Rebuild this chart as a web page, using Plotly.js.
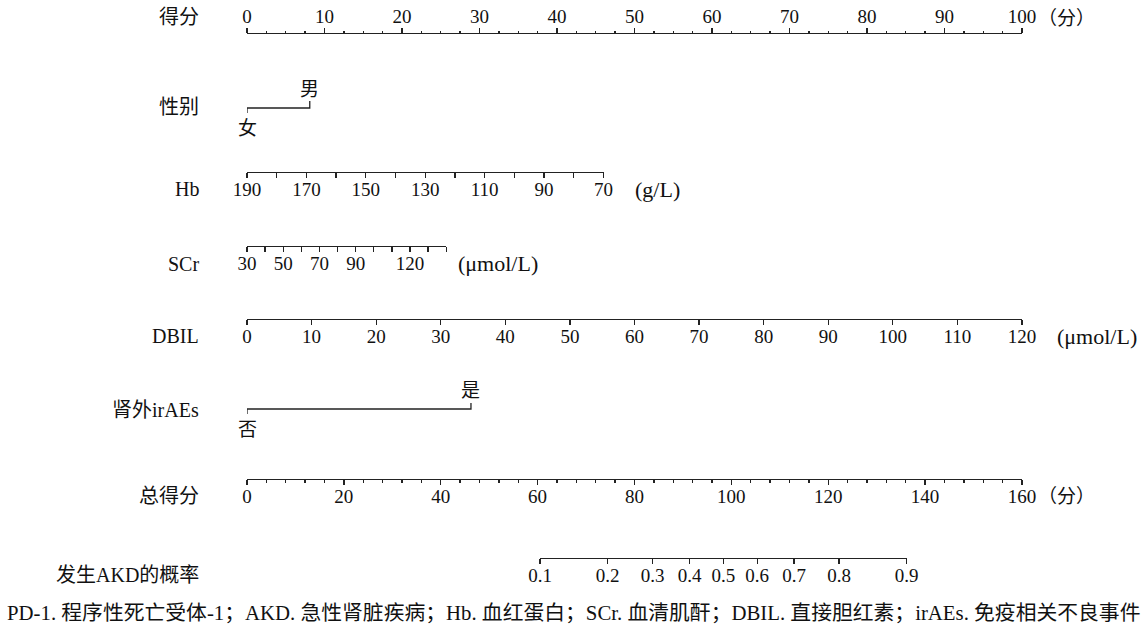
<!DOCTYPE html>
<html>
<head>
<meta charset="utf-8">
<script src="https://cdn.plot.ly/plotly-3.0.1.min.js"></script>
<style>html,body{margin:0;padding:0;background:#fff;}#chart{width:1144px;height:626px;}</style>
</head>
<body>
<div id="chart"></div>
<script>
// ---------- data ----------
const rowLabels = ['得分', '性别', 'Hb', 'SCr', 'DBIL', '肾外irAEs', '总得分', '发生AKD的概率'];
const pointsTicks = [0, 10, 20, 30, 40, 50, 60, 70, 80, 90, 100];
const sexLevels = ['女', '男'];
const sexPoints = [0, 8.1];
const hbTicks = [190, 180, 170, 160, 150, 140, 130, 120, 110, 100, 90, 80, 70];
const hbLabels = [190, 170, 150, 130, 110, 90, 70];
const hbPointsSpan = [0, 46];          // points for Hb 190 and Hb 70
const scrTicks = [30, 40, 50, 60, 70, 80, 90, 100, 110, 120, 130, 140];
const scrLabels = [30, 50, 70, 90, 120];
const scrPointsSpan = [0, 25.7];       // points for SCr 30 and SCr 140
const dbilTicks = [0, 10, 20, 30, 40, 50, 60, 70, 80, 90, 100, 110, 120];
const dbilPointsSpan = [0, 100];
const iraeLevels = ['否', '是'];
const iraePoints = [0, 28.9];
const totalTicks = [0, 20, 40, 60, 80, 100, 120, 140, 160];
const probTicks = [0.1, 0.2, 0.3, 0.4, 0.5, 0.6, 0.7, 0.8, 0.9];
const probTotalSpan = [60.5, 136.2];   // total points for p=0.1 and p=0.9
const caption = 'PD-1. 程序性死亡受体-1；AKD. 急性肾脏疾病；Hb. 血红蛋白；SCr. 血清肌酐；DBIL. 直接胆红素；irAEs. 免疫相关不良事件';

// ---------- layout helpers ----------
const W = 1144, H = 626;
const X0 = 247, X1 = 1022;
const FONT = 'Liberation Serif, "Noto Sans CJK SC", serif';
const LC = '#222';
const ptPx = p => X0 + p * (X1 - X0) / 100;
const totPx = t => X0 + t * (X1 - X0) / 160;
const fx = px => px / W;
const fy = py => 1 - py / H;
const logit = p => Math.log(p / (1 - p));
const tt = (vals, labs) => vals.map(v => labs.includes(v) ? String(v) : '');

function axis(d0, d1, range, linePy, side, tickvals, ticktext, extra) {
  return Object.assign({
    domain: [fx(d0), fx(d1)], range: range, anchor: 'free', position: fy(linePy),
    side: side, showline: true, linecolor: LC, linewidth: 1.3,
    ticks: 'outside', ticklen: 5, tickwidth: 1.3, tickcolor: LC,
    tickmode: 'array', tickvals: tickvals, ticktext: ticktext,
    ticklabelstandoff: side === 'top' ? -3 : -5,
    tickfont: {family: FONT, size: 19, color: '#111'},
    showgrid: false, zeroline: false, fixedrange: true, automargin: false
  }, extra || {});
}

const layout = {
  width: W, height: H, margin: {l: 0, r: 0, t: 0, b: 0},
  paper_bgcolor: '#fff', plot_bgcolor: 'rgba(0,0,0,0)', showlegend: false,
  font: {family: FONT, color: '#111'},
  yaxis: {domain: [0, 1], range: [H, 0], visible: false, fixedrange: true},
  xaxis: axis(X0, X1, [0, 100], 33, 'top', pointsTicks, pointsTicks.map(String),
    {minor: {tickvals: [2.5,5,7.5,12.5,15,17.5,22.5,25,27.5,32.5,35,37.5,42.5,45,47.5,52.5,55,57.5,62.5,65,67.5,72.5,75,77.5,82.5,85,87.5,92.5,95,97.5], ticks: 'outside', ticklen: 2.5, tickwidth: 1.3, tickcolor: LC, showgrid: false}}),
  xaxis2: axis(ptPx(hbPointsSpan[0]), ptPx(hbPointsSpan[1]), [hbTicks[0], hbTicks[hbTicks.length - 1]], 172, 'bottom', hbTicks, tt(hbTicks, hbLabels)),
  xaxis3: axis(ptPx(scrPointsSpan[0]), ptPx(scrPointsSpan[1]), [scrTicks[0], scrTicks[scrTicks.length - 1]], 246, 'bottom', scrTicks, tt(scrTicks, scrLabels)),
  xaxis4: axis(ptPx(dbilPointsSpan[0]), ptPx(dbilPointsSpan[1]), [dbilTicks[0], dbilTicks[dbilTicks.length - 1]], 319, 'bottom', dbilTicks, dbilTicks.map(String)),
  xaxis5: axis(X0, X1, [0, 160], 479, 'bottom', totalTicks, totalTicks.map(String),
    {minor: {dtick: 4, tick0: 0, ticks: 'outside', ticklen: 2.5, tickwidth: 1.3, tickcolor: LC, showgrid: false}}),
  xaxis6: axis(totPx(probTotalSpan[0]), totPx(probTotalSpan[1]), [logit(probTicks[0]), logit(probTicks[probTicks.length - 1])], 558, 'bottom', probTicks.map(logit), probTicks.map(String)),
  annotations: [],
  shapes: []
};

// row labels (right-aligned)
const rowY = [17, 107, 189, 264, 336, 410, 496, 575];
rowLabels.forEach((t, i) => layout.annotations.push({
  text: t, xref: 'paper', yref: 'paper', x: fx(201), y: fy(rowY[i]),
  xanchor: 'right', yanchor: 'middle', showarrow: false, font: {family: FONT, size: 20, color: '#111'}
}));

// units
[['（分）', 1036, 18, 19], ['(g/L)', 633, 189, 22], ['(μmol/L)', 456, 264, 22], ['(μmol/L)', 1055, 336, 22], ['（分）', 1036, 496, 19]]
  .forEach(u => layout.annotations.push({
    text: u[0], xref: 'paper', yref: 'paper', x: fx(u[1]), y: fy(u[2]),
    xanchor: 'left', yanchor: 'middle', showarrow: false, font: {family: FONT, size: u[3], color: '#111'}
  }));

// categorical level labels
layout.annotations.push(
  {text: sexLevels[0], xref: 'x', yref: 'y', x: sexPoints[0], y: 128, showarrow: false, xanchor: 'center', yanchor: 'middle', font: {family: FONT, size: 19, color: '#111'}},
  {text: sexLevels[1], xref: 'x', yref: 'y', x: sexPoints[1], y: 89, showarrow: false, xanchor: 'center', yanchor: 'middle', font: {family: FONT, size: 19, color: '#111'}},
  {text: iraeLevels[0], xref: 'x', yref: 'y', x: iraePoints[0], y: 429, showarrow: false, xanchor: 'center', yanchor: 'middle', font: {family: FONT, size: 19, color: '#111'}},
  {text: iraeLevels[1], xref: 'x', yref: 'y', x: iraePoints[1], y: 390, showarrow: false, xanchor: 'center', yanchor: 'middle', font: {family: FONT, size: 19, color: '#111'}}
);

// caption
layout.annotations.push({
  text: caption, xref: 'paper', yref: 'paper', x: fx(573), y: fy(612),
  xanchor: 'center', yanchor: 'middle', showarrow: false, font: {family: FONT, size: 20.8, color: '#111'}
});

// ---------- traces ----------
const lineStyle = {color: LC, width: 1.3};
const traces = [
  {x: [sexPoints[0], sexPoints[0], sexPoints[1], sexPoints[1]], y: [113, 108, 108, 101],
   xaxis: 'x', yaxis: 'y', mode: 'lines', line: lineStyle, hoverinfo: 'skip', cliponaxis: false},
  {x: [iraePoints[0], iraePoints[0], iraePoints[1], iraePoints[1]], y: [414, 409, 409, 403],
   xaxis: 'x', yaxis: 'y', mode: 'lines', line: lineStyle, hoverinfo: 'skip', cliponaxis: false}
];
// invisible anchors so every free axis gets drawn
['x2', 'x3', 'x4', 'x5', 'x6'].forEach((ax, i) => {
  const r = layout['xaxis' + (i + 2)].range;
  traces.push({x: [r[0]], y: [-500], xaxis: ax, yaxis: 'y', mode: 'markers',
    marker: {opacity: 0}, hoverinfo: 'skip'});
});

Plotly.newPlot('chart', traces, layout, {staticPlot: true, displayModeBar: false});
</script>
</body>
</html>
